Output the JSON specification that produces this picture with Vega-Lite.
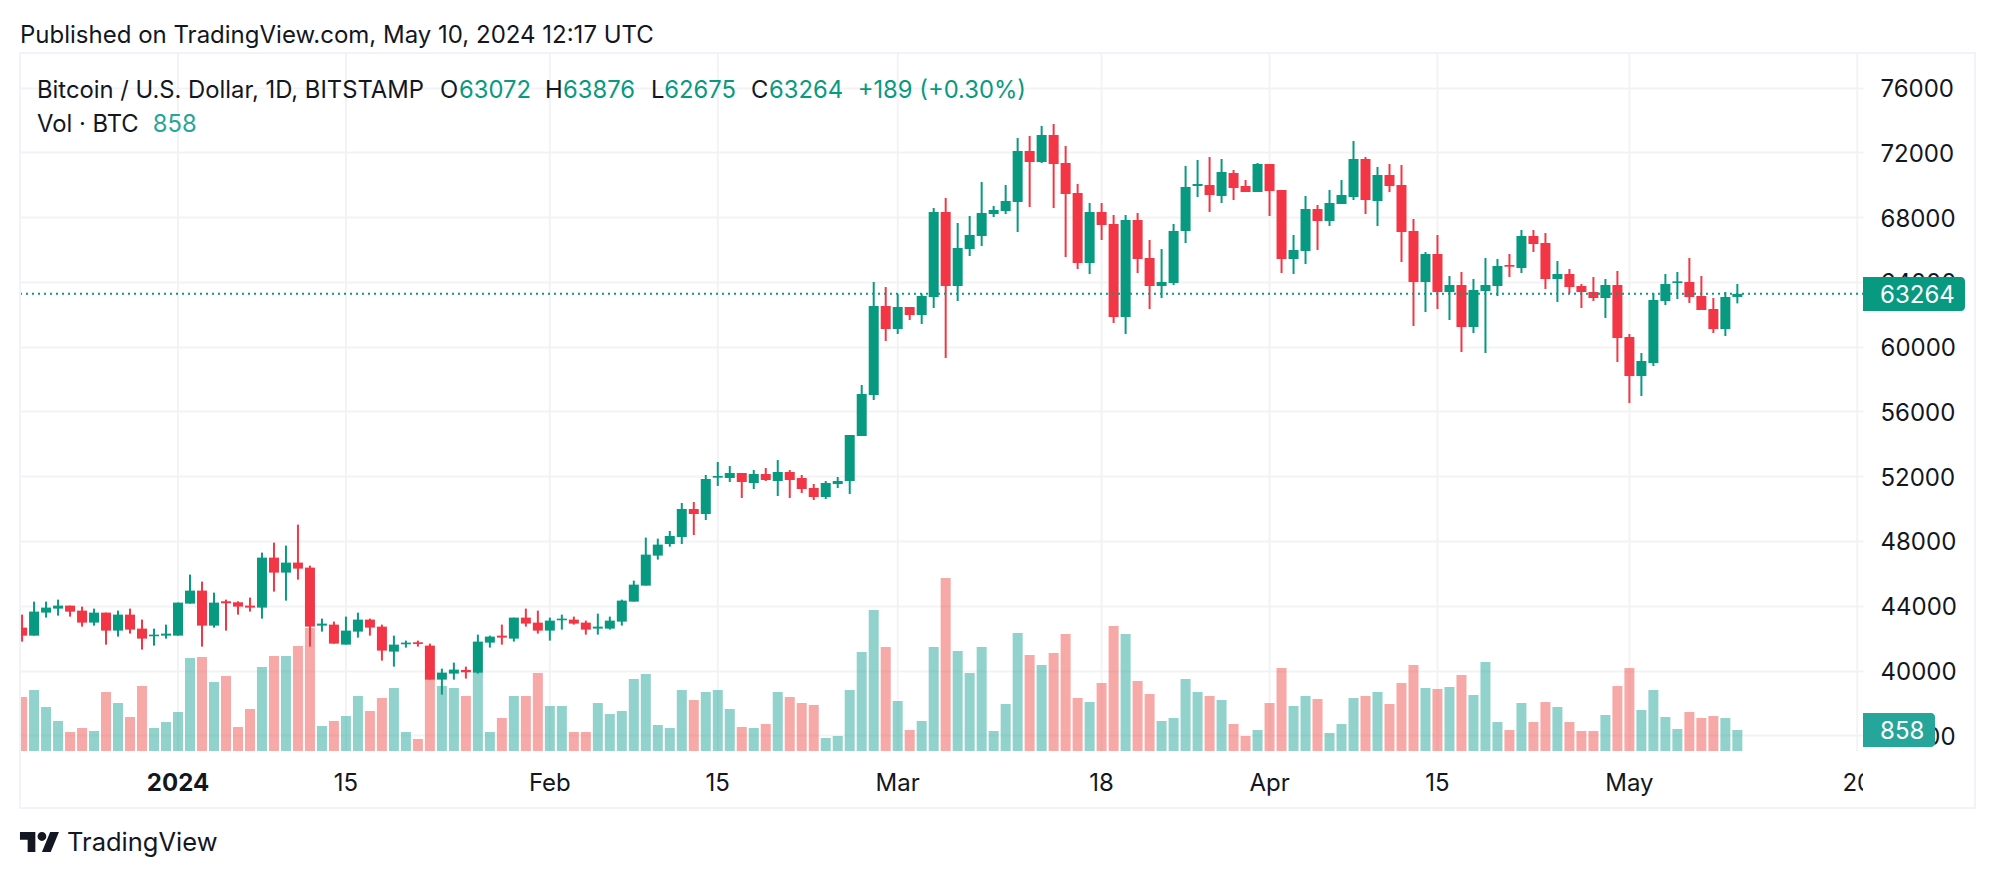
{
"$schema":"https://vega.github.io/schema/vega-lite/v6.json",
"background":"white",
"autosize":"none",
"padding":{"left":20,"top":53,"right":133,"bottom":70},
"width":1843,
"height":755,
"title":{"text":"Published on TradingView.com, May 10, 2024 12:17 UTC","anchor":"start","frame":"group","offset":4,"font":"Inter","fontSize":24,"fontWeight":"normal","color":"#131722"},
"config":{"view":{"stroke":null}},
"datasets":{
"candles":[
{"date":"2023-12-19","open":42650,"high":43455,"low":41785,"close":42155,"volume":2206},
{"date":"2023-12-20","open":42155,"high":44255,"low":42155,"close":43640,"volume":2492},
{"date":"2023-12-21","open":43577,"high":44256,"low":43268,"close":43886,"volume":1798},
{"date":"2023-12-22","open":43824,"high":44380,"low":43392,"close":44009,"volume":1226},
{"date":"2023-12-23","open":44009,"high":44009,"low":43330,"close":43638,"volume":776},
{"date":"2023-12-24","open":43700,"high":43948,"low":42712,"close":42959,"volume":940},
{"date":"2023-12-25","open":42959,"high":43824,"low":42774,"close":43577,"volume":817},
{"date":"2023-12-26","open":43577,"high":43577,"low":41601,"close":42465,"volume":2411},
{"date":"2023-12-27","open":42465,"high":43700,"low":42095,"close":43453,"volume":1961},
{"date":"2023-12-28","open":43453,"high":43824,"low":42280,"close":42527,"volume":1389},
{"date":"2023-12-29","open":42589,"high":43145,"low":41292,"close":41971,"volume":2656},
{"date":"2023-12-30","open":42115,"high":42589,"low":41539,"close":42218,"volume":940},
{"date":"2023-12-31","open":42156,"high":42836,"low":41971,"close":42280,"volume":1185},
{"date":"2024-01-01","open":42156,"high":44195,"low":42156,"close":44195,"volume":1594},
{"date":"2024-01-02","open":44133,"high":45924,"low":44133,"close":44936,"volume":3800},
{"date":"2024-01-03","open":44936,"high":45492,"low":41477,"close":42774,"volume":3841},
{"date":"2024-01-04","open":42774,"high":44812,"low":42651,"close":44195,"volume":2819},
{"date":"2024-01-05","open":44277,"high":44380,"low":42465,"close":44154,"volume":3065},
{"date":"2024-01-06","open":44215,"high":44277,"low":43453,"close":43948,"volume":981},
{"date":"2024-01-07","open":44009,"high":44504,"low":43638,"close":43886,"volume":1716},
{"date":"2024-01-08","open":43886,"high":47283,"low":43207,"close":46974,"volume":3432},
{"date":"2024-01-09","open":46974,"high":47900,"low":44874,"close":46048,"volume":3882},
{"date":"2024-01-10","open":46048,"high":47715,"low":44318,"close":46665,"volume":3882},
{"date":"2024-01-11","open":46665,"high":49012,"low":45615,"close":46295,"volume":4290},
{"date":"2024-01-12","open":46356,"high":46480,"low":41477,"close":42712,"volume":5026},
{"date":"2024-01-13","open":42774,"high":43207,"low":42404,"close":42898,"volume":1022},
{"date":"2024-01-14","open":42836,"high":43021,"low":41662,"close":41662,"volume":1226},
{"date":"2024-01-15","open":41601,"high":43330,"low":41601,"close":42465,"volume":1430},
{"date":"2024-01-16","open":42404,"high":43577,"low":42033,"close":43145,"volume":2247},
{"date":"2024-01-17","open":43145,"high":43207,"low":42156,"close":42651,"volume":1634},
{"date":"2024-01-18","open":42712,"high":42836,"low":40613,"close":41230,"volume":2166},
{"date":"2024-01-19","open":41168,"high":42156,"low":40242,"close":41601,"volume":2574},
{"date":"2024-01-20","open":41621,"high":41848,"low":41416,"close":41724,"volume":776},
{"date":"2024-01-21","open":41745,"high":41848,"low":41477,"close":41642,"volume":490},
{"date":"2024-01-22","open":41539,"high":41662,"low":39439,"close":39439,"volume":2942},
{"date":"2024-01-23","open":39439,"high":40118,"low":38513,"close":39871,"volume":2656},
{"date":"2024-01-24","open":39810,"high":40489,"low":39439,"close":40057,"volume":2574},
{"date":"2024-01-25","open":40036,"high":40242,"low":39501,"close":39892,"volume":2247},
{"date":"2024-01-26","open":39871,"high":42218,"low":39810,"close":41786,"volume":3228},
{"date":"2024-01-27","open":41724,"high":42156,"low":41416,"close":42095,"volume":776},
{"date":"2024-01-28","open":42156,"high":42836,"low":41601,"close":42033,"volume":1348},
{"date":"2024-01-29","open":41971,"high":43268,"low":41786,"close":43268,"volume":2247},
{"date":"2024-01-30","open":43268,"high":43824,"low":42712,"close":42898,"volume":2247},
{"date":"2024-01-31","open":42959,"high":43700,"low":42280,"close":42465,"volume":3187},
{"date":"2024-02-01","open":42465,"high":43268,"low":41848,"close":43083,"volume":1839},
{"date":"2024-02-02","open":43104,"high":43453,"low":42527,"close":43206,"volume":1839},
{"date":"2024-02-03","open":43145,"high":43330,"low":42836,"close":42898,"volume":776},
{"date":"2024-02-04","open":42959,"high":43083,"low":42218,"close":42527,"volume":776},
{"date":"2024-02-05","open":42589,"high":43515,"low":42218,"close":42712,"volume":1961},
{"date":"2024-02-06","open":42589,"high":43330,"low":42527,"close":43083,"volume":1512},
{"date":"2024-02-07","open":43021,"high":44380,"low":42774,"close":44318,"volume":1634},
{"date":"2024-02-08","open":44256,"high":45553,"low":44256,"close":45306,"volume":2942},
{"date":"2024-02-09","open":45244,"high":48209,"low":45244,"close":47159,"volume":3146},
{"date":"2024-02-10","open":47097,"high":48147,"low":46850,"close":47777,"volume":1062},
{"date":"2024-02-11","open":47814,"high":48617,"low":47649,"close":48308,"volume":940},
{"date":"2024-02-12","open":48246,"high":50346,"low":47814,"close":49976,"volume":2492},
{"date":"2024-02-13","open":49976,"high":50408,"low":48370,"close":49667,"volume":2084},
{"date":"2024-02-14","open":49667,"high":52076,"low":49296,"close":51829,"volume":2411},
{"date":"2024-02-15","open":51911,"high":52878,"low":51396,"close":52014,"volume":2492},
{"date":"2024-02-16","open":51890,"high":52631,"low":51643,"close":52199,"volume":1716},
{"date":"2024-02-17","open":52199,"high":52199,"low":50655,"close":51643,"volume":981},
{"date":"2024-02-18","open":51582,"high":52384,"low":51211,"close":52137,"volume":940},
{"date":"2024-02-19","open":52137,"high":52508,"low":51705,"close":51767,"volume":1103},
{"date":"2024-02-20","open":51705,"high":53002,"low":50779,"close":52261,"volume":2411},
{"date":"2024-02-21","open":52261,"high":52384,"low":50655,"close":51767,"volume":2206},
{"date":"2024-02-22","open":51890,"high":52076,"low":50964,"close":51211,"volume":1961},
{"date":"2024-02-23","open":51273,"high":51520,"low":50532,"close":50717,"volume":1880},
{"date":"2024-02-24","open":50717,"high":51705,"low":50593,"close":51582,"volume":531},
{"date":"2024-02-25","open":51520,"high":51952,"low":51273,"close":51705,"volume":613},
{"date":"2024-02-26","open":51705,"high":54546,"low":50902,"close":54546,"volume":2492},
{"date":"2024-02-27","open":54484,"high":57634,"low":54484,"close":57078,"volume":4045},
{"date":"2024-02-28","open":57016,"high":63995,"low":56707,"close":62513,"volume":5761},
{"date":"2024-02-29","open":62513,"high":63686,"low":60351,"close":61092,"volume":4249},
{"date":"2024-03-01","open":61092,"high":63254,"low":60783,"close":62451,"volume":2043},
{"date":"2024-03-02","open":62451,"high":62451,"low":61648,"close":61957,"volume":858},
{"date":"2024-03-03","open":61957,"high":63254,"low":61401,"close":63130,"volume":1226},
{"date":"2024-03-04","open":63069,"high":68565,"low":62389,"close":68318,"volume":4249},
{"date":"2024-03-05","open":68318,"high":69183,"low":59301,"close":63748,"volume":7069},
{"date":"2024-03-06","open":63748,"high":67639,"low":62822,"close":66095,"volume":4086},
{"date":"2024-03-07","open":66033,"high":68071,"low":65601,"close":66898,"volume":3187},
{"date":"2024-03-08","open":66836,"high":70171,"low":66218,"close":68256,"volume":4249},
{"date":"2024-03-09","open":68195,"high":68689,"low":68010,"close":68442,"volume":817},
{"date":"2024-03-10","open":68380,"high":69986,"low":68195,"close":68998,"volume":1920},
{"date":"2024-03-11","open":68936,"high":72889,"low":67083,"close":72086,"volume":4821},
{"date":"2024-03-12","open":72086,"high":73012,"low":68627,"close":71407,"volume":3923},
{"date":"2024-03-13","open":71407,"high":73630,"low":71345,"close":73074,"volume":3514},
{"date":"2024-03-14","open":73074,"high":73753,"low":68565,"close":71283,"volume":4004},
{"date":"2024-03-15","open":71345,"high":72395,"low":65539,"close":69430,"volume":4781},
{"date":"2024-03-16","open":69492,"high":70047,"low":64798,"close":65168,"volume":2166},
{"date":"2024-03-17","open":65168,"high":68874,"low":64489,"close":68318,"volume":2002},
{"date":"2024-03-18","open":68318,"high":68874,"low":66589,"close":67515,"volume":2778},
{"date":"2024-03-19","open":67577,"high":68133,"low":61463,"close":61833,"volume":5108},
{"date":"2024-03-20","open":61833,"high":68133,"low":60783,"close":67824,"volume":4781},
{"date":"2024-03-21","open":67824,"high":68257,"low":64551,"close":65416,"volume":2860},
{"date":"2024-03-22","open":65477,"high":66589,"low":62327,"close":63748,"volume":2329},
{"date":"2024-03-23","open":63748,"high":66033,"low":63007,"close":63995,"volume":1226},
{"date":"2024-03-24","open":63933,"high":67577,"low":63810,"close":67145,"volume":1348},
{"date":"2024-03-25","open":67145,"high":71159,"low":66404,"close":69862,"volume":2942},
{"date":"2024-03-26","open":69924,"high":71530,"low":69245,"close":70047,"volume":2411},
{"date":"2024-03-27","open":69986,"high":71715,"low":68318,"close":69368,"volume":2247},
{"date":"2024-03-28","open":69306,"high":71592,"low":68874,"close":70789,"volume":2084},
{"date":"2024-03-29","open":70727,"high":70912,"low":69059,"close":69801,"volume":1103},
{"date":"2024-03-30","open":69924,"high":70294,"low":69553,"close":69553,"volume":613},
{"date":"2024-03-31","open":69553,"high":71345,"low":69553,"close":71283,"volume":858},
{"date":"2024-04-01","open":71283,"high":71283,"low":68071,"close":69615,"volume":1961},
{"date":"2024-04-02","open":69677,"high":69677,"low":64551,"close":65416,"volume":3391},
{"date":"2024-04-03","open":65416,"high":66898,"low":64489,"close":65971,"volume":1839},
{"date":"2024-04-04","open":65910,"high":69307,"low":65107,"close":68504,"volume":2247},
{"date":"2024-04-05","open":68504,"high":68751,"low":65971,"close":67763,"volume":2125},
{"date":"2024-04-06","open":67763,"high":69677,"low":67454,"close":68874,"volume":735},
{"date":"2024-04-07","open":68812,"high":70294,"low":68812,"close":69368,"volume":1103},
{"date":"2024-04-08","open":69245,"high":72704,"low":69059,"close":71592,"volume":2166},
{"date":"2024-04-09","open":71592,"high":71715,"low":68195,"close":69059,"volume":2247},
{"date":"2024-04-10","open":68998,"high":71098,"low":67454,"close":70603,"volume":2411},
{"date":"2024-04-11","open":70603,"high":71283,"low":69553,"close":69924,"volume":1920},
{"date":"2024-04-12","open":69986,"high":71221,"low":65230,"close":67083,"volume":2778},
{"date":"2024-04-13","open":67145,"high":67886,"low":61278,"close":63995,"volume":3514},
{"date":"2024-04-14","open":63995,"high":65848,"low":62142,"close":65724,"volume":2574},
{"date":"2024-04-15","open":65724,"high":66898,"low":62327,"close":63377,"volume":2533},
{"date":"2024-04-16","open":63377,"high":64366,"low":61648,"close":63810,"volume":2615},
{"date":"2024-04-17","open":63810,"high":64613,"low":59672,"close":61216,"volume":3105},
{"date":"2024-04-18","open":61216,"high":64180,"low":60845,"close":63501,"volume":2288},
{"date":"2024-04-19","open":63439,"high":65477,"low":59610,"close":63810,"volume":3637},
{"date":"2024-04-20","open":63748,"high":65416,"low":63130,"close":64983,"volume":1185},
{"date":"2024-04-21","open":65045,"high":65724,"low":64304,"close":64942,"volume":858},
{"date":"2024-04-22","open":64860,"high":67207,"low":64551,"close":66836,"volume":1961},
{"date":"2024-04-23","open":66836,"high":67207,"low":65848,"close":66342,"volume":1185},
{"date":"2024-04-24","open":66404,"high":67021,"low":63563,"close":64180,"volume":2002},
{"date":"2024-04-25","open":64180,"high":65292,"low":62760,"close":64489,"volume":1798},
{"date":"2024-04-26","open":64489,"high":64798,"low":63316,"close":63686,"volume":1185},
{"date":"2024-04-27","open":63748,"high":63872,"low":62389,"close":63377,"volume":817},
{"date":"2024-04-28","open":63377,"high":64304,"low":62822,"close":63007,"volume":817},
{"date":"2024-04-29","open":63007,"high":64180,"low":61772,"close":63810,"volume":1471},
{"date":"2024-04-30","open":63810,"high":64675,"low":59054,"close":60536,"volume":2656},
{"date":"2024-05-01","open":60598,"high":60783,"low":56522,"close":58190,"volume":3391},
{"date":"2024-05-02","open":58190,"high":59610,"low":56954,"close":59116,"volume":1675},
{"date":"2024-05-03","open":58993,"high":63316,"low":58807,"close":62883,"volume":2492},
{"date":"2024-05-04","open":62822,"high":64489,"low":62575,"close":63872,"volume":1389},
{"date":"2024-05-05","open":63933,"high":64613,"low":62945,"close":64036,"volume":899},
{"date":"2024-05-06","open":63995,"high":65477,"low":62698,"close":63069,"volume":1594},
{"date":"2024-05-07","open":63130,"high":64366,"low":62266,"close":62266,"volume":1348},
{"date":"2024-05-08","open":62327,"high":63007,"low":60845,"close":61092,"volume":1430},
{"date":"2024-05-09","open":61092,"high":63377,"low":60660,"close":63069,"volume":1348},
{"date":"2024-05-10","open":63072,"high":63876,"low":62675,"close":63264,"volume":858}
],
"ticks":[
{"date":"2024-01-01","label":"2024","major":true},
{"date":"2024-01-15","label":"15","major":false},
{"date":"2024-02-01","label":"Feb","major":false},
{"date":"2024-02-15","label":"15","major":false},
{"date":"2024-03-01","label":"Mar","major":false},
{"date":"2024-03-18","label":"18","major":false},
{"date":"2024-04-01","label":"Apr","major":false},
{"date":"2024-04-15","label":"15","major":false},
{"date":"2024-05-01","label":"May","major":false},
{"date":"2024-05-20","label":"20","major":false}
],
"legend":[
{"at":"2023-12-20T05:53:00Z","level":75897,"label":"Bitcoin / U.S. Dollar, 1D, BITSTAMP","tone":"ink"},
{"at":"2024-01-22T20:10:00Z","level":75897,"label":"O","tone":"ink"},
{"at":"2024-01-24T10:19:00Z","level":75897,"label":"63072","tone":"up"},
{"at":"2024-01-31T14:24:00Z","level":75897,"label":"H","tone":"ink"},
{"at":"2024-02-02T02:24:00Z","level":75897,"label":"63876","tone":"up"},
{"at":"2024-02-09T10:19:00Z","level":75897,"label":"L","tone":"ink"},
{"at":"2024-02-10T13:00:00Z","level":75897,"label":"62675","tone":"up"},
{"at":"2024-02-17T18:29:00Z","level":75897,"label":"C","tone":"ink"},
{"at":"2024-02-19T06:29:00Z","level":75897,"label":"63264","tone":"up"},
{"at":"2024-02-26T15:50:00Z","level":75897,"label":"+189 (+0.30%)","tone":"up"},
{"at":"2023-12-20T05:53:00Z","level":73797,"label":"Vol · BTC","tone":"ink"},
{"at":"2023-12-29T21:22:00Z","level":73797,"label":"858","tone":"vol"}
],
"frame":[{"from":"2023-12-18T19:52:00Z","to":"2024-05-29T19:26:00Z","low":31510,"high":78139}],
"lastPrice":[{"from":"2023-12-18T19:52:00Z","to":"2024-05-20T11:24:00Z","tagEnd":"2024-05-28T23:30:00Z","labelAt":"2024-05-21T21:36:00Z","price":63264,"tagLow":62205,"tagHigh":64304,"label":"63264"}],
"lastVolume":[{"from":"2024-05-20T11:24:00Z","tagEnd":"2024-05-26T11:30:00Z","labelAt":"2024-05-21T21:36:00Z","volume":858,"tagLow":163,"tagHigh":1553,"label":"858"}],
"brand":[{"markAt":"2023-12-20T10:48:00Z","textAt":"2023-12-22T18:00:00Z","level":29410,"label":"TradingView"}]
},
"resolve":{"scale":{"y":"independent"}},
"layer":[
{
"layer":[
{"data":{"name":"ticks"},"mark":{"type":"rule","color":"#f3f3f5","strokeWidth":2},
"encoding":{"x":{"field":"date","type":"temporal","axis":null,"scale":{"type":"utc","nice":false,"padding":0,"domain":["2023-12-18T19:52:00Z","2024-05-20T11:24:00Z"]}},
"y":{"datum":0,"type":"quantitative","axis":null,"scale":{"domain":[-2329,28520],"nice":false}},"y2":{"datum":28520}}},
{"data":{"name":"candles"},"mark":{"type":"bar","size":10,"orient":"vertical","clip":true,"opacity":0.5},
"encoding":{"x":{"field":"date","type":"temporal","axis":null},
"y":{"field":"volume","type":"quantitative","axis":null},"y2":{"datum":0},
"color":{"condition":{"test":"datum.close >= datum.open","value":"#26a69a"},"value":"#ef5350"}}},
{"data":{"name":"lastVolume"},"mark":{"type":"rect","color":"#26a69a","cornerRadiusTopRight":4,"cornerRadiusBottomRight":4},
"encoding":{"x":{"field":"from","type":"temporal","axis":null},"x2":{"field":"tagEnd"},"y":{"field":"tagLow","type":"quantitative","axis":null},"y2":{"field":"tagHigh"}}},
{"data":{"name":"lastVolume"},"mark":{"type":"text","align":"left","baseline":"middle","dy":2,"font":"Inter","fontSize":24,"color":"white"},
"encoding":{"x":{"field":"labelAt","type":"temporal","axis":null},"y":{"field":"volume","type":"quantitative","axis":null},"text":{"field":"label"}}}
]
},
{
"layer":[
{"data":{"name":"candles"},"mark":{"type":"rule","strokeWidth":2,"clip":true},
"encoding":{"x":{"field":"date","type":"temporal","axis":null},
"y":{"field":"low","type":"quantitative","scale":{"domain":[31510,78139],"nice":false},
"axis":{"orient":"right","title":null,"values":[36000,40000,44000,48000,52000,56000,60000,64000,68000,72000,76000],"format":"d","grid":true,"gridColor":"#f3f3f5","gridWidth":2,"domain":false,"ticks":false,"labelFont":"Inter","labelFontSize":24,"labelColor":"#131722","labelPadding":17,"labelAlign":"left","labelBound":false,"labelOverlap":false,"labelOffset":2}},
"y2":{"field":"high"},
"color":{"condition":{"test":"datum.close >= datum.open","value":"#089981"},"value":"#f23645"}}},
{"data":{"name":"candles"},"mark":{"type":"bar","size":10,"orient":"vertical","clip":true},
"encoding":{"x":{"field":"date","type":"temporal","axis":null},
"y":{"field":"open","type":"quantitative"},"y2":{"field":"close"},
"color":{"condition":{"test":"datum.close >= datum.open","value":"#089981"},"value":"#f23645"}}},
{"data":{"name":"lastPrice"},"mark":{"type":"rule","color":"#089981","strokeWidth":2,"strokeDash":[2,4]},
"encoding":{"x":{"field":"from","type":"temporal","axis":null},"x2":{"field":"to"},"y":{"field":"price","type":"quantitative"}}},
{"data":{"name":"lastPrice"},"mark":{"type":"rect","color":"#089981","cornerRadiusTopRight":4,"cornerRadiusBottomRight":4},
"encoding":{"x":{"field":"to","type":"temporal","axis":null},"x2":{"field":"tagEnd"},"y":{"field":"tagLow","type":"quantitative"},"y2":{"field":"tagHigh"}}},
{"data":{"name":"lastPrice"},"mark":{"type":"text","align":"left","baseline":"middle","dy":2,"font":"Inter","fontSize":24,"color":"white"},
"encoding":{"x":{"field":"labelAt","type":"temporal","axis":null},"y":{"field":"price","type":"quantitative"},"text":{"field":"label"}}},
{"data":{"name":"frame"},"mark":{"type":"rect","fillOpacity":0,"stroke":"#f0f3fa","strokeWidth":2},
"encoding":{"x":{"field":"from","type":"temporal","axis":null},"x2":{"field":"to"},"y":{"field":"low","type":"quantitative"},"y2":{"field":"high"}}},
{"data":{"name":"ticks"},"transform":[{"filter":"!datum.major"}],"mark":{"type":"text","align":"center","baseline":"middle","dy":2,"font":"Inter","fontSize":24,"color":"#131722","clip":true},
"encoding":{"x":{"field":"date","type":"temporal","axis":null},"y":{"datum":33134,"type":"quantitative"},"text":{"field":"label"}}},
{"data":{"name":"ticks"},"transform":[{"filter":"datum.major"}],"mark":{"type":"text","align":"center","baseline":"middle","dy":2,"font":"Inter","fontSize":24,"fontWeight":"bold","color":"#131722"},
"encoding":{"x":{"field":"date","type":"temporal","axis":null},"y":{"datum":33134,"type":"quantitative"},"text":{"field":"label"}}},
{"data":{"name":"legend"},"mark":{"type":"text","align":"left","baseline":"middle","dy":2,"font":"Inter","fontSize":23.8},
"encoding":{"x":{"field":"at","type":"temporal","axis":null},"y":{"field":"level","type":"quantitative"},"text":{"field":"label"},
"color":{"field":"tone","type":"nominal","legend":null,"scale":{"domain":["ink","up","vol"],"range":["#131722","#089981","#26a69a"]}}}},
{"data":{"name":"brand"},"mark":{"type":"point","filled":true,"opacity":1,"size":1521,"color":"#131722","shape":"M-0.211 0.507H-0.606V-0.113H-1V-0.507H-0.211ZM0.578 0.507H0.127L0.549 -0.507H1ZM-0.099 -0.282A0.225 0.225 0 1 1 0.352 -0.282A0.225 0.225 0 1 1 -0.099 -0.282Z"},
"encoding":{"x":{"field":"markAt","type":"temporal","axis":null},"y":{"field":"level","type":"quantitative"}}},
{"data":{"name":"brand"},"mark":{"type":"text","align":"left","baseline":"middle","dy":1,"font":"Inter","fontSize":25.5,"color":"#131722"},
"encoding":{"x":{"field":"textAt","type":"temporal","axis":null},"y":{"field":"level","type":"quantitative"},"text":{"field":"label"}}}
]
}
]
}
